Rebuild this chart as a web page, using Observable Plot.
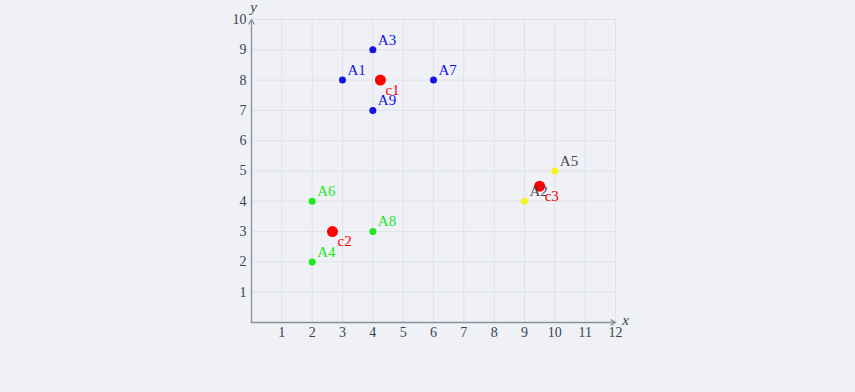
<!DOCTYPE html>
<html><head><meta charset="utf-8">
<script src="https://cdn.jsdelivr.net/npm/d3@7"></script>
<script src="https://cdn.jsdelivr.net/npm/@observablehq/plot@0.6"></script>
<style>
html,body{margin:0;padding:0;background:#eff1f6;}
#chart svg{display:block;}
</style></head>
<body><div id="chart"></div>
<script>
const pointNames = ["A1","A3","A7","A9","A4","A6","A8","A2","A5"];
const pointX = [3,4,6,4,2,2,4,9,10];
const pointY = [8,9,8,7,2,4,3,4,5];
const pointCluster = [0,0,0,0,1,1,1,2,2];
const centroidNames = ["c1","c2","c3"];
const centroidX = [4.25, 2.67, 9.5];
const centroidY = [8, 3, 4.5];
const clusterFill = ["#1414e6", "#1ee81e", "#f5f51a"];
const clusterText = ["#1414e6", "#1ee81e", "#444a55"];
const xTicks = [1,2,3,4,5,6,7,8,9,10,11,12];
const yTicks = [1,2,3,4,5,6,7,8,9,10];
const gridX = [0,1,2,3,4,5,6,7,8,9,10,11,12];
const gridY = [0,1,2,3,4,5,6,7,8,9,10];

const points = pointNames.map((n,i)=>({name:n,x:pointX[i],y:pointY[i],fill:clusterFill[pointCluster[i]],tc:clusterText[pointCluster[i]]}));
const cents = centroidNames.map((n,i)=>({name:n,x:centroidX[i],y:centroidY[i]}));

const font = "'Liberation Serif', 'DejaVu Serif', serif";
const chart = Plot.plot({
  width: 855, height: 392,
  marginLeft: 251, marginRight: 240, marginTop: 19, marginBottom: 70,
  style: {background: "transparent", fontFamily: font, fontSize: "14px", color: "#3a4250"},
  x: {domain: [0, 12], label: null},
  y: {domain: [0, 10], label: null},
  marks: [
    Plot.ruleX(gridX, {stroke: "#dfe2ea", strokeWidth: 1}),
    Plot.ruleY(gridY, {stroke: "#dfe2ea", strokeWidth: 1}),
    Plot.axisX(xTicks, {tickSize: 0, tickPadding: 5, fontSize: 14, fill: "#3a4250", label: null}),
    Plot.axisY(yTicks, {tickSize: 0, tickPadding: 5, fontSize: 14, fill: "#3a4250", label: null}),
    Plot.arrow([{x1:0,y1:0,x2:12,y2:0},{x1:0,y1:0,x2:0,y2:10}], {x1:"x1",y1:"y1",x2:"x2",y2:"y2", stroke: "#8a8f9c", strokeWidth: 1.3, headLength: 6}),
    Plot.text([{x:12,y:0,t:"x"}], {x:"x",y:"y",text:"t",dx:10,dy:-2,fontStyle:"italic",fontSize:15,fill:"#3a4250"}),
    Plot.text([{x:0,y:10,t:"y"}], {x:"x",y:"y",text:"t",dx:2,dy:-12,fontStyle:"italic",fontSize:15,fill:"#3a4250"}),
    Plot.dot(points, {x:"x",y:"y",r:3.5,fill:"fill",stroke:null}),
    Plot.dot(cents, {x:"x",y:"y",r:5.5,fill:"#ff0000"}),
    Plot.text(points, {x:"x",y:"y",text:"name",fill:"tc",textAnchor:"start",dx:5,dy:-10,fontSize:15}),
    Plot.text(cents, {x:"x",y:"y",text:"name",fill:"#ff0000",textAnchor:"start",dx:5,dy:10,fontSize:15})
  ]
});
document.getElementById("chart").appendChild(chart);
</script></body></html>
